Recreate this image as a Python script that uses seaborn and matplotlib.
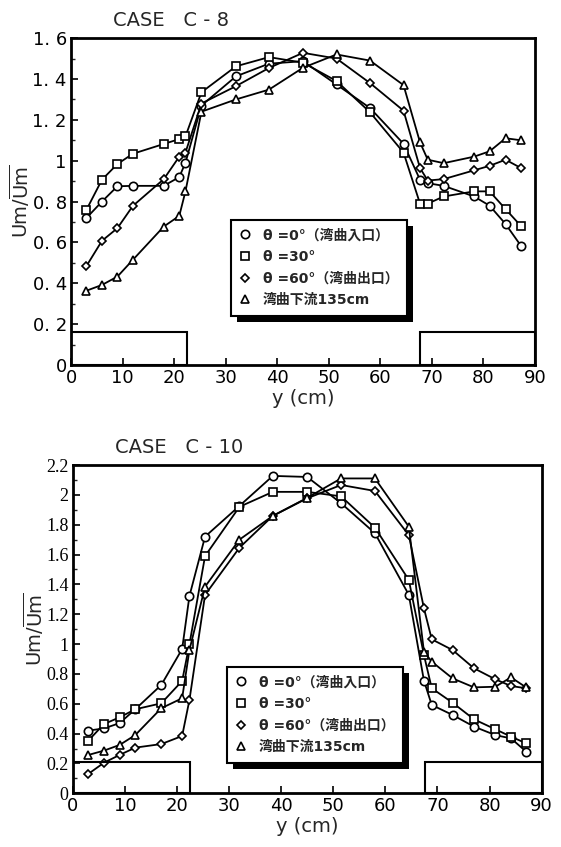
import numpy as np
import pandas as pd
import seaborn as sns
import matplotlib.pyplot as plt
from matplotlib.lines import Line2D
from matplotlib.patches import Rectangle

# legend labels and markers
labels = ['θ =0°（湾曲入口）', 'θ =30°', 'θ =60°（湾曲出口）', '湾曲下流135cm']
markers = ['o', 's', 'D', '^']
marker_sizes = {'o': 6, 's': 5.8, 'D': 4.3, '^': 5.5}

# CASE C-8
x_c8 = [3, 6, 9, 12, 18, 21, 22.2, 25.3, 32, 38.4, 45, 51.5, 58, 64.5,
        67.7, 69.2, 72.3, 78.2, 81.2, 84.3, 87.3]
c8_t0 = [0.72, 0.80, 0.875, 0.877, 0.877, 0.92, 0.99, 1.27, 1.413, 1.475, 1.487,
         1.373, 1.258, 1.083, 0.907, 0.89, 0.877, 0.825, 0.78, 0.69, 0.583]
c8_t30 = [0.76, 0.907, 0.984, 1.034, 1.082, 1.106, 1.119, 1.335, 1.462, 1.507, 1.48,
          1.39, 1.237, 1.04, 0.79, 0.79, 0.825, 0.85, 0.85, 0.763, 0.68]
c8_t60 = [0.485, 0.608, 0.67, 0.779, 0.91, 1.02, 1.04, 1.28, 1.365, 1.454, 1.528,
          1.50, 1.38, 1.245, 0.964, 0.903, 0.91, 0.953, 0.975, 1.005, 0.964]
c8_down = [0.364, 0.392, 0.433, 0.515, 0.678, 0.73, 0.85, 1.24, 1.30, 1.348, 1.455,
           1.52, 1.49, 1.37, 1.09, 1.005, 0.988, 1.02, 1.046, 1.11, 1.10]
c8_yticks = [0, 0.2, 0.4, 0.6, 0.8, 1.0, 1.2, 1.4, 1.6]
c8_yticklabels = ['0', '0. 2', '0. 4', '0. 6', '0. 8', '1', '1. 2', '1. 4', '1. 6']
c8_floor = 0.16

# CASE C-10
x_c10 = [3, 6, 9, 12, 17, 21, 22.4, 25.4, 32, 38.4, 45, 51.5, 58, 64.5,
         67.4, 68.9, 72.9, 77, 81.1, 84.1, 87]
c10_t0 = [0.42, 0.435, 0.47, 0.563, 0.726, 0.967, 1.322, 1.72, 1.926, 2.127, 2.12,
          1.944, 1.743, 1.33, 0.755, 0.592, 0.525, 0.447, 0.39, 0.368, 0.28]
c10_t30 = [0.353, 0.464, 0.509, 0.563, 0.603, 0.753, 0.999, 1.59, 1.92, 2.02, 2.02,
           1.99, 1.78, 1.43, 0.927, 0.704, 0.607, 0.496, 0.429, 0.38, 0.335]
c10_t60 = [0.13, 0.205, 0.257, 0.306, 0.33, 0.384, 0.625, 1.33, 1.646, 1.859, 1.977,
           2.066, 2.026, 1.73, 1.24, 1.032, 0.96, 0.838, 0.764, 0.719, 0.704]
c10_down = [0.257, 0.286, 0.324, 0.39, 0.57, 0.637, 0.96, 1.385, 1.70, 1.859, 1.98,
            2.11, 2.11, 1.787, 0.95, 0.882, 0.77, 0.71, 0.714, 0.777, 0.71]
c10_yticks = [0, 0.2, 0.4, 0.6, 0.8, 1.0, 1.2, 1.4, 1.6, 1.8, 2.0, 2.2]
c10_yticklabels = ['0', '0.2', '0.4', '0.6', '0.8', '1', '1.2', '1.4', '1.6',
                   '1.8', '2', '2.2']
c10_floor = 0.21

xticks = [0, 10, 20, 30, 40, 50, 60, 70, 80, 90]
# inlet/outlet floor blocks (x ranges)
floor_left = (0, 22.5)
floor_right = (67.7, 90)

sns.set_theme(style='white')
plt.rcParams['font.family'] = ['DejaVu Sans', 'Noto Sans CJK JP']

SANS = ['Liberation Sans Narrow', 'DejaVu Sans']
SERIF = ['Liberation Serif', 'DejaVu Serif']


def to_long(x, series):
    frames = []
    for lab, ys in zip(labels, series):
        frames.append(pd.DataFrame({'y': x, 'u': ys, 'series': lab}))
    return pd.concat(frames, ignore_index=True)


def draw_panel(fig, ax, x, series, yticks, yticklabels, floor, title,
               ytick_family, leg_anchor):
    df = to_long(x, series)
    sns.lineplot(data=df, x='y', y='u', style='series',
                 markers=dict(zip(labels, markers)), dashes=False,
                 color='black', linewidth=1.3, markersize=6,
                 markerfacecolor='white', markeredgecolor='black',
                 markeredgewidth=1.2, legend=False, ax=ax)
    # smaller diamonds / triangles like the original
    for line in ax.lines:
        m = line.get_marker()
        if m in marker_sizes:
            line.set_markersize(marker_sizes[m])

    # floor blocks
    for x0, x1 in [floor_left, floor_right]:
        ax.add_patch(Rectangle((x0, 0), x1 - x0, floor, facecolor='none',
                               edgecolor='black', linewidth=1.5, zorder=3))

    ax.set_xlim(0, 90)
    ax.set_ylim(yticks[0], yticks[-1])
    ax.set_xticks(xticks)
    ax.set_xticklabels([str(t) for t in xticks], family=SANS, fontsize=13)
    ax.set_yticks(yticks)
    ax.set_yticklabels(yticklabels, family=ytick_family, fontsize=13)
    ax.set_yticks(np.arange(0.1, yticks[-1], 0.2), minor=True)
    ax.tick_params(axis='both', which='major', direction='in', length=5,
                   width=1.2, left=True, bottom=True, pad=3, colors='black')
    ax.tick_params(axis='y', which='minor', direction='in', length=3,
                   width=1.0, left=True)
    for sp in ax.spines.values():
        sp.set_color('black')
        sp.set_linewidth(2)

    ax.set_xlabel('y (cm)', family=SANS, fontsize=14, labelpad=1)
    ax.set_ylabel(r'$\mathrm{Um}/\overline{\mathrm{Um}}$', fontsize=14,
                  labelpad=0)
    ax.text(0.09, 1.025, title, transform=ax.transAxes, family=SANS,
            fontsize=14, ha='left', va='bottom')

    handles = [Line2D([], [], linestyle='none', marker=m,
                      markersize=marker_sizes[m],
                      markerfacecolor='white', markeredgecolor='black',
                      markeredgewidth=1.2) for m in markers]
    leg = ax.legend(handles, labels, loc='upper left', bbox_to_anchor=leg_anchor,
                    frameon=True, fancybox=False, edgecolor='black',
                    framealpha=1, handlelength=0.8, handletextpad=0.9,
                    labelspacing=0.55, borderpad=0.6,
                    prop={'family': ['DejaVu Sans', 'Noto Sans CJK JP'],
                          'size': 10, 'weight': 'bold'})
    leg.get_frame().set_linewidth(1.5)
    leg.set_zorder(6)
    return leg


fig = plt.figure(figsize=(5.61, 8.47), dpi=100)
ax1 = fig.add_axes([0.1266, 0.569, 0.827, 0.386])
ax2 = fig.add_axes([0.1296, 0.0634, 0.836, 0.3876])

leg1 = draw_panel(fig, ax1, x_c8, [c8_t0, c8_t30, c8_t60, c8_down],
                  c8_yticks, c8_yticklabels, c8_floor, 'CASE   C - 8',
                  SANS, (0.33, 0.465))
leg2 = draw_panel(fig, ax2, x_c10, [c10_t0, c10_t30, c10_t60, c10_down],
                  c10_yticks, c10_yticklabels, c10_floor, 'CASE   C - 10',
                  SERIF, (0.314, 0.406))

# black drop shadow behind each legend
fig.canvas.draw()
inv = fig.transFigure.inverted()
for ax, leg in [(ax1, leg1), (ax2, leg2)]:
    bb = leg.get_window_extent().transformed(inv)
    dx, dy = 6 / 561, 6 / 847
    ax.add_patch(Rectangle((bb.x0 + dx, bb.y0 - dy), bb.width, bb.height,
                           transform=fig.transFigure, facecolor='black',
                           edgecolor='none', zorder=5.5, clip_on=False))

fig.savefig('out.png', dpi=100)
